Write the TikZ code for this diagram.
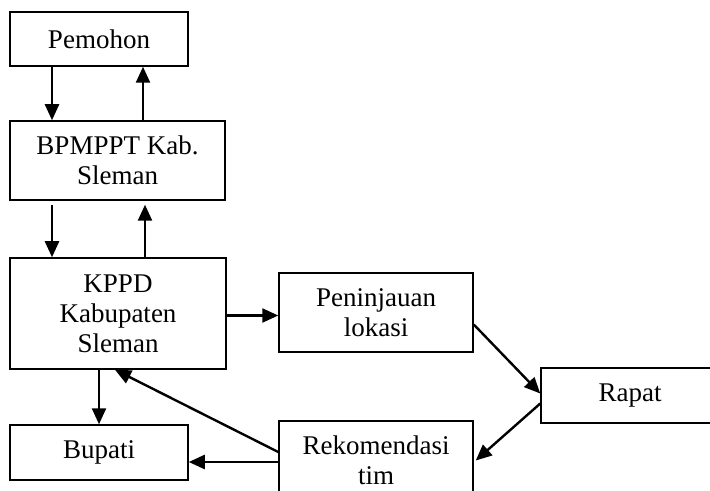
\documentclass[tikz,border=0pt]{standalone}
\usepackage{fontspec}
\setmainfont{Liberation Serif}
\usetikzlibrary{arrows.meta}

\tikzset{
  box/.style={draw, line width=0.75pt, align=center, inner sep=2pt,
    font=\fontsize{13.5}{15}\selectfont},
  arr/.style={-{Triangle[length=8pt,width=7pt]}, line width=1.2pt}
}

\begin{document}
\begin{tikzpicture}[x=0.5pt, y=-0.5pt]

        % Page frame
        \useasboundingbox (0,0) rectangle (710,491);

        % Left column
        \node[box, minimum width=89pt, minimum height=27pt] (pemohon) at (99,39) {Pemohon};
        \node[box, minimum width=107.5pt, minimum height=39.5pt] (bpmppt) at (117.5,160.5) {BPMPPT Kab.\\Sleman};
        \node[box, minimum width=108pt, minimum height=55.5pt] (kppd) at (118,313.5) {KPPD\\Kabupaten\\Sleman};
        \node[box, minimum width=89pt, minimum height=27.5pt] (bupati) at (99,452.5) {Bupati};

        % Right side
        \node[box, minimum width=97pt, minimum height=39.5pt] (tinjau) at (376,312.5) {Peninjauan\\lokasi};
        \node[box, minimum width=89pt, minimum height=27.5pt] (rapat) at (630,395.5) {Rapat};
        \node[box, minimum width=97pt, minimum height=39.5pt] (rekom) at (376,460.5) {Rekomendasi\\tim};

        % Pemohon <-> BPMPPT
        \draw[arr] ([xshift=-23.5pt]pemohon.south) -- ([xshift=-23.5pt]pemohon.south |- bpmppt.north);
        \draw[arr] ([xshift=22pt]pemohon.south |- bpmppt.north) -- ([xshift=22pt]pemohon.south);

        % BPMPPT <-> KPPD
        \draw[arr, shorten <=2pt] ([xshift=-32.75pt]bpmppt.south) -- ([xshift=-32.75pt]bpmppt.south |- kppd.north);
        \draw[arr, shorten >=2pt] ([xshift=13.75pt]bpmppt.south |- kppd.north) -- ([xshift=13.75pt]bpmppt.south);

        % KPPD -> Bupati, KPPD -> Peninjauan
        \draw[arr] (bupati.north |- kppd.south) -- (bupati.north);
        \draw[arr] ([yshift=-1pt]kppd.east) -- ([yshift=-1pt]kppd.east -| tinjau.west);

        % Peninjauan -> Rapat -> Rekomendasi
        \draw[arr] ([yshift=-6pt]tinjau.east) -- ([yshift=1pt]rapat.west);
        \draw[arr] ([yshift=-4pt]rapat.west) -- ([xshift=1pt]rekom.east);

        % Rekomendasi -> KPPD, Rekomendasi -> Bupati
        \draw[arr] ([yshift=4.25pt]rekom.west) -- ([xshift=-1.5pt]kppd.south);
        \draw[arr] ([yshift=-0.75pt]rekom.west) -- ([yshift=-0.75pt]rekom.west -| bupati.east);

      \end{tikzpicture}
\end{document}
